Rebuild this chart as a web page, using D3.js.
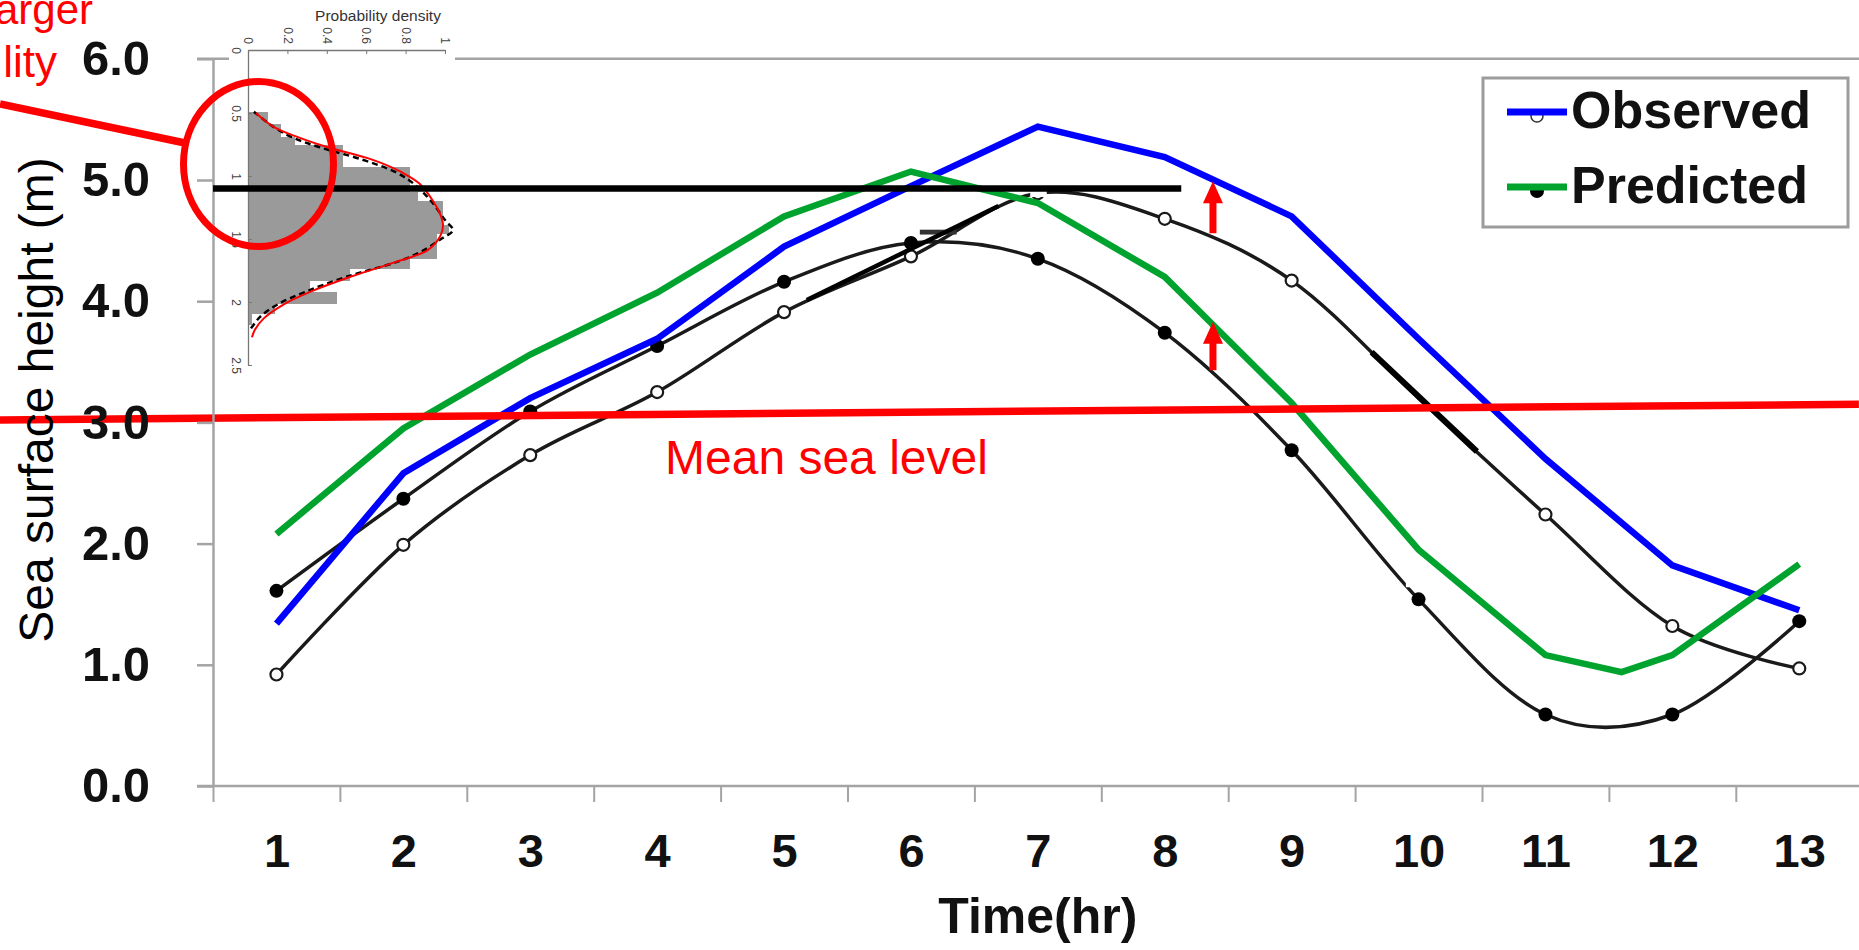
<!DOCTYPE html>
<html><head><meta charset="utf-8">
<script src="https://cdn.jsdelivr.net/npm/d3@7"></script>
<style>
html,body{margin:0;padding:0;background:#fff;overflow:hidden}
svg{display:block}
text{font-family:"Liberation Sans",Arial,Helvetica,sans-serif}
</style></head><body>
<svg id="chart" width="1859" height="950"></svg>
<script>
// ---------------- data ----------------
const hours = [1,2,3,4,5,6,7,8,9,10,11,12,13];
const xTickEdges = [0.5,1.5,2.5,3.5,4.5,5.5,6.5,7.5,8.5,9.5,10.5,11.5,12.5];
const observed = [1.34,2.58,3.20,3.69,4.45,4.95,5.44,5.19,4.70,3.69,2.70,1.82,1.45];
const predictedTime = [1,2,3,4,5,6,7,8,9,10,11,11.6,12,13];
const predicted = [2.08,2.95,3.56,4.07,4.70,5.07,4.81,4.20,3.16,1.95,1.08,0.94,1.08,1.83];
const baseObserved = [0.92,1.99,2.73,3.25,3.91,4.37,4.89,4.68,4.17,3.20,2.24,1.32,0.97];
const basePredicted = [1.61,2.37,3.09,3.63,4.16,4.48,4.35,3.74,2.77,1.54,0.59,0.59,1.36];
const baseObservedHiddenMarkers = [10];
const yTicks = [0,1,2,3,4,5,6];
const yTickLabels = ["0.0","1.0","2.0","3.0","4.0","5.0","6.0"];
const meanSeaTime = [-1.18, 13.47];
const meanSeaLevel = [3.02, 3.15];
const thresholdTime = [0.5, 8.13];
const thresholdLevel = [4.93, 4.93];
const tangentA = {t:[5.18,6.69], v:[4.01,4.785]};
const tangentB = {t:[9.63,10.46], v:[3.58,2.76]};
const arrowTime = 8.38;
const arrowFrom = [4.56, 3.43];
const arrowTo = [4.99, 3.83];
const legendLabels = ["Observed","Predicted"];
const annotationLines = ["arger","lity"];
// inset (probability density)
const histEdges = [0.49,0.585,0.69,0.755,0.93,1.125,1.20,1.39,1.455,1.65,1.73,1.825,1.92,2.01,2.09,2.18];
const histDensity = [0.10,0.17,0.24,0.48,0.82,0.865,0.99,1.02,0.96,0.82,0.52,0.315,0.45,0.137,0.02];
const fitValue = [0.50,0.61,0.69,0.77,0.87,0.97,1.06,1.20,1.30,1.39,1.48,1.59,1.68,1.80,1.92,2.02,2.13,2.22,2.28];
const fitDensity = [0.04,0.13,0.25,0.40,0.63,0.78,0.87,0.94,0.975,0.99,0.975,0.91,0.755,0.52,0.315,0.18,0.08,0.035,0.02];
const empValue = [0.49,0.60,0.69,0.77,0.87,0.97,1.06,1.20,1.35,1.43,1.50,1.60,1.68,1.80,1.92,2.02,2.12,2.21];
const empDensity = [0.03,0.12,0.22,0.36,0.58,0.75,0.84,0.93,1.00,1.04,0.98,0.88,0.76,0.50,0.29,0.15,0.06,0.015];
const densityTicks = [0,0.2,0.4,0.6,0.8,1];
const valueTicks = [0,0.5,1,1.5,2,2.5];

// ---------------- drawing ----------------
const svg = d3.select("#chart");
const x = d3.scaleLinear().domain([0.5, 13.5]).range([213, 1862.7]);
const y = d3.scaleLinear().domain([0, 6]).range([786, 58.8]);
const gray = "#a4a4a4";
const FONT = '"Liberation Sans",Arial,sans-serif';

// frame lines
svg.append("line").attr("x1",197).attr("x2",1859).attr("y1",y(6)).attr("y2",y(6))
  .attr("stroke",gray).attr("stroke-width",2.5);
svg.append("line").attr("x1",197).attr("x2",1859).attr("y1",y(0)).attr("y2",y(0))
  .attr("stroke",gray).attr("stroke-width",2.5);

// y axis
const yAx = svg.append("g").attr("transform",`translate(${x(0.5)},0)`)
  .call(d3.axisLeft(y).tickValues(yTicks).tickFormat((d,i)=>yTickLabels[i])
        .tickSizeInner(16).tickSizeOuter(0).tickPadding(47));
yAx.select(".domain").attr("stroke",gray).attr("stroke-width",2.5);
yAx.selectAll(".tick line").attr("stroke",gray).attr("stroke-width",2.5);
yAx.selectAll(".tick text").attr("font-size",49).attr("font-weight","bold").attr("fill","#111")
  .attr("font-family",FONT);

// x axis ticks at edges
const xAx = svg.append("g").attr("transform",`translate(0,${y(0)})`)
  .call(d3.axisBottom(x).tickValues(xTickEdges).tickFormat("").tickSizeInner(16).tickSizeOuter(0));
xAx.select(".domain").remove();
xAx.selectAll(".tick line").attr("stroke",gray).attr("stroke-width",2);
const xLab = svg.append("g").attr("transform",`translate(0,${y(0)})`)
  .call(d3.axisBottom(x).tickValues(hours).tickFormat(d3.format("d")).tickSize(0).tickPadding(48));
xLab.select(".domain").remove();
xLab.selectAll(".tick text").attr("font-size",47).attr("font-weight","bold").attr("fill","#111")
  .attr("font-family",FONT);

// axis titles
svg.append("text").attr("x",x(7)).attr("y",933).attr("text-anchor","middle")
  .attr("font-size",50).attr("font-weight","bold").attr("fill","#111").text("Time(hr)");

// smooth black curves
const smooth = d3.line().x((d,i)=>x(hours[i])).y(d=>y(d)).curve(d3.curveCardinal.tension(0));
svg.append("path").datum(baseObserved).attr("d",smooth).attr("fill","none").attr("stroke","#1a1a1a").attr("stroke-width",3.5);
svg.append("path").datum(basePredicted).attr("d",smooth).attr("fill","none").attr("stroke","#1a1a1a").attr("stroke-width",3.5);
svg.append("g").selectAll("circle").data(basePredicted).join("circle")
  .attr("cx",(d,i)=>x(hours[i])).attr("cy",d=>y(d)).attr("r",7).attr("fill","#000");
svg.append("g").selectAll("circle")
  .data(baseObserved.map((v,i)=>({t:hours[i],v})).filter(d=>!baseObservedHiddenMarkers.includes(d.t)))
  .join("circle")
  .attr("cx",d=>x(d.t)).attr("cy",d=>y(d.v)).attr("r",6)
  .attr("fill","#fff").attr("stroke","#1a1a1a").attr("stroke-width",2.2);

// compositing artifacts
svg.append("rect").attr("x",x(9.9)).attr("y",y(1.89)).attr("width",x(10.16)-x(9.9)).attr("height",y(1.64)-y(1.89)).attr("fill","#fff");
svg.append("rect").attr("x",x(6.94)).attr("y",y(4.92)).attr("width",x(7.07)-x(6.94)).attr("height",y(4.86)-y(4.92)).attr("fill","#fff");
svg.append("rect").attr("x",x(6.07)).attr("y",y(4.59)).attr("width",x(6.36)-x(6.07)).attr("height",y(4.55)-y(4.59)).attr("fill","#333");

// observed / predicted lines
const poly = d3.line().curve(d3.curveLinear);
svg.append("path").attr("d",poly(observed.map((v,i)=>[x(hours[i]),y(v)])))
  .attr("fill","none").attr("stroke","#0000ff").attr("stroke-width",6.5).attr("stroke-linejoin","miter");
svg.append("path").attr("d",poly(predicted.map((v,i)=>[x(predictedTime[i]),y(v)])))
  .attr("fill","none").attr("stroke","#00a32e").attr("stroke-width",6.5).attr("stroke-linejoin","miter");

// tangent segments
[[tangentA,4.5],[tangentB,6]].forEach(([s,w])=>{
  svg.append("line").attr("x1",x(s.t[0])).attr("y1",y(s.v[0])).attr("x2",x(s.t[1])).attr("y2",y(s.v[1]))
    .attr("stroke","#000").attr("stroke-width",w);
});

// mean sea level
svg.append("line").attr("x1",x(meanSeaTime[0])).attr("y1",y(meanSeaLevel[0]))
  .attr("x2",x(meanSeaTime[1])).attr("y2",y(meanSeaLevel[1]))
  .attr("stroke","#ff0000").attr("stroke-width",7.5);
svg.append("text").attr("x",665).attr("y",474).attr("font-size",48).attr("fill","#ff0000").text("Mean sea level");

// bring y labels and title above the red line
yAx.raise();
svg.append("text").attr("transform","translate(53,400) rotate(-90)").attr("text-anchor","middle")
  .attr("font-size",48).attr("fill","#000").text("Sea surface height (m)");

// arrows
arrowFrom.forEach((v0,i)=>{
  const ax = x(arrowTime), y0 = y(v0), y1 = y(arrowTo[i]);
  const hw = 10, sw = 3.5, hl = 22;
  svg.append("path").attr("d",`M${ax-sw},${y0} L${ax-sw},${y1+hl} L${ax-hw},${y1+hl} L${ax},${y1} L${ax+hw},${y1+hl} L${ax+sw},${y1+hl} L${ax+sw},${y0} Z`)
    .attr("fill","#ff0000");
});

// ---------------- inset ----------------
const ix = d3.scaleLinear().domain([0,1]).range([248,445]);
const iy = d3.scaleLinear().domain([0,2.5]).range([50,365]);
svg.append("rect").attr("x",229).attr("y",0).attr("width",226).attr("height",372).attr("fill","#fff");
svg.append("g").attr("shape-rendering","crispEdges").selectAll("rect").data(histDensity).join("rect")
  .attr("x",ix(0)).attr("y",(d,i)=>iy(histEdges[i])).attr("width",d=>ix(d)-ix(0))
  .attr("height",(d,i)=>iy(histEdges[i+1])-iy(histEdges[i])+0.6).attr("fill","#9a9a9a");
const dline = d3.line().x(d=>ix(d[1])).y(d=>iy(d[0])).curve(d3.curveCatmullRom);
svg.append("path").attr("d",dline(empValue.map((v,i)=>[v,empDensity[i]])))
  .attr("fill","none").attr("stroke","#000").attr("stroke-width",2.5).attr("stroke-dasharray","6,4");
svg.append("path").attr("d",dline(fitValue.map((v,i)=>[v,fitDensity[i]])))
  .attr("fill","none").attr("stroke","#ff0000").attr("stroke-width",2);
const topAx = svg.append("g").attr("transform",`translate(0,${iy(0)})`)
  .call(d3.axisTop(ix).tickValues(densityTicks).tickFormat(d3.format("~g")).tickSizeInner(-4).tickSizeOuter(0));
topAx.select(".domain").attr("stroke","#777").attr("stroke-width",1.3);
topAx.selectAll(".tick line").attr("stroke","#777");
topAx.selectAll(".tick text").attr("x",0).attr("y",0).attr("dy","0.35em")
  .attr("transform","translate(0,-6) rotate(90)").attr("text-anchor","end")
  .attr("font-size",12).attr("fill","#444");
const leftAx = svg.append("g").attr("transform",`translate(${ix(0)},0)`)
  .call(d3.axisLeft(iy).tickValues(valueTicks).tickFormat(d3.format("~g")).tickSizeInner(-4).tickSizeOuter(0));
leftAx.select(".domain").attr("stroke","#777").attr("stroke-width",1.3);
leftAx.selectAll(".tick line").attr("stroke","#777");
leftAx.selectAll(".tick text").attr("x",0).attr("y",0).attr("dy","0.35em")
  .attr("transform","translate(-12,0) rotate(90)").attr("text-anchor","middle")
  .attr("font-size",12).attr("fill","#444");
svg.append("text").attr("x",378).attr("y",21).attr("text-anchor","middle")
  .attr("font-size",15.5).attr("fill","#333").text("Probability density");

// threshold line
svg.append("line").attr("x1",x(thresholdTime[0])).attr("y1",y(thresholdLevel[0]))
  .attr("x2",x(thresholdTime[1])).attr("y2",y(thresholdLevel[1]))
  .attr("stroke","#000").attr("stroke-width",6.5);

// annotation: red ellipse, pointer, text
svg.append("ellipse").attr("cx",258.5).attr("cy",164).attr("rx",75).attr("ry",82.5)
  .attr("fill","none").attr("stroke","#ff0000").attr("stroke-width",7);
svg.append("line").attr("x1",0).attr("y1",104).attr("x2",185).attr("y2",143)
  .attr("stroke","#ff0000").attr("stroke-width",7.5);
svg.append("text").attr("x",93).attr("y",24).attr("text-anchor","end").attr("font-size",42).attr("fill","#ff0000").text(annotationLines[0]);
svg.append("text").attr("x",57).attr("y",77).attr("text-anchor","end").attr("font-size",44).attr("fill","#ff0000").text(annotationLines[1]);

// legend
const lg = svg.append("g");
lg.append("rect").attr("x",1483).attr("y",78).attr("width",365).attr("height",149)
  .attr("fill","#fff").attr("stroke","#9c9c9c").attr("stroke-width",3);
const legY = [112, 187];
const legColor = ["#0000ff","#00a32e"];
legendLabels.forEach((lab,i)=>{
  lg.append("line").attr("x1",1507).attr("x2",1567).attr("y1",legY[i]).attr("y2",legY[i]).attr("stroke","#222").attr("stroke-width",2);
  if(i===0) lg.append("circle").attr("cx",1537).attr("cy",legY[i]+4).attr("r",6).attr("fill","#fff").attr("stroke","#333").attr("stroke-width",1.5);
  else lg.append("circle").attr("cx",1537).attr("cy",legY[i]+4).attr("r",7).attr("fill","#000");
  lg.append("line").attr("x1",1507).attr("x2",1567).attr("y1",legY[i]).attr("y2",legY[i]).attr("stroke",legColor[i]).attr("stroke-width",7);
  lg.append("text").attr("x",1571).attr("y",legY[i]+16).attr("font-size",52).attr("font-weight","bold").attr("fill","#111").text(lab);
});
</script>
</body></html>
